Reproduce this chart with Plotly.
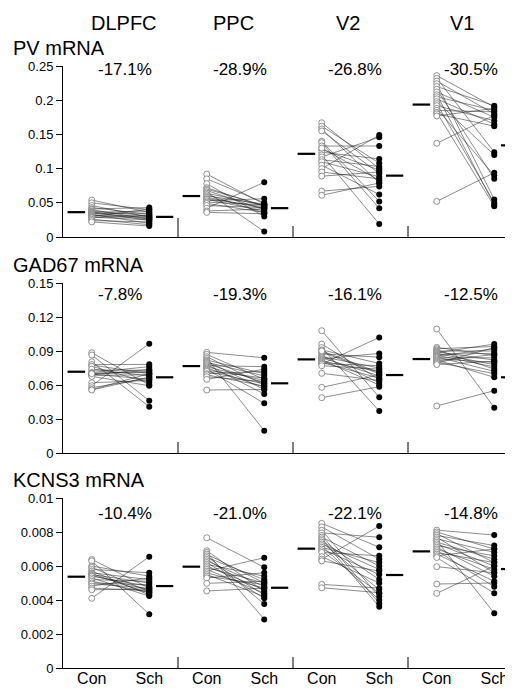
import plotly.graph_objects as go

regions = ["DLPFC", "PPC", "V2", "V1"]
genes = ["PV mRNA", "GAD67 mRNA", "KCNS3 mRNA"]
group_labels = ["Con", "Sch"]

# ---------------- PV mRNA ----------------
pv_con_dlpfc = [0.054, 0.050, 0.046, 0.043, 0.041, 0.040, 0.038, 0.037, 0.036, 0.035,
                0.034, 0.033, 0.032, 0.031, 0.030, 0.029, 0.028, 0.026, 0.024, 0.022]
pv_sch_dlpfc = [0.036, 0.040, 0.029, 0.033, 0.043, 0.026, 0.031, 0.024, 0.038, 0.028,
                0.035, 0.020, 0.030, 0.027, 0.041, 0.025, 0.032, 0.018, 0.022, 0.016]
pv_con_ppc = [0.092, 0.085, 0.078, 0.072, 0.070, 0.068, 0.066, 0.064, 0.062, 0.060,
              0.058, 0.056, 0.055, 0.053, 0.051, 0.049, 0.046, 0.042, 0.038, 0.036]
pv_sch_ppc = [0.048, 0.050, 0.030, 0.045, 0.046, 0.040, 0.008, 0.046, 0.035, 0.048,
              0.042, 0.044, 0.038, 0.056, 0.047, 0.036, 0.043, 0.080, 0.041, 0.034]
pv_con_v2 = [0.167, 0.162, 0.158, 0.155, 0.140, 0.138, 0.133, 0.128, 0.124, 0.120,
             0.117, 0.113, 0.110, 0.105, 0.100, 0.095, 0.089, 0.067, 0.061, 0.130]
pv_sch_v2 = [0.100, 0.108, 0.079, 0.093, 0.052, 0.042, 0.133, 0.098, 0.114, 0.019,
             0.146, 0.103, 0.088, 0.062, 0.149, 0.085, 0.095, 0.074, 0.079, 0.083]
pv_con_v1 = [0.236, 0.232, 0.228, 0.224, 0.220, 0.216, 0.212, 0.208, 0.205, 0.202,
             0.198, 0.195, 0.192, 0.188, 0.185, 0.182, 0.180, 0.177, 0.137, 0.052]
pv_sch_v1 = [0.190, 0.124, 0.180, 0.055, 0.192, 0.085, 0.175, 0.047, 0.185, 0.165,
             0.120, 0.050, 0.170, 0.090, 0.183, 0.045, 0.162, 0.188, 0.178, 0.094]
pv_con_mean = [0.0363, 0.0599, 0.1216, 0.1936]
pv_sch_mean = [0.0294, 0.0422, 0.0897, 0.1340]
pv_pct = ["-17.1%", "-28.9%", "-26.8%", "-30.5%"]
pv_ticks = [0, 0.05, 0.1, 0.15, 0.2, 0.25]
pv_ticktext = ["0", "0.05", "0.1", "0.15", "0.2", "0.25"]

# ---------------- GAD67 mRNA ----------------
gad_con_dlpfc = [0.0885, 0.0865, 0.0805, 0.0776, 0.0780, 0.0765, 0.0732, 0.0740, 0.0710, 0.0705,
                 0.0697, 0.0690, 0.0685, 0.0676, 0.0700, 0.0620, 0.0594, 0.0576, 0.0560, 0.0556]
gad_sch_dlpfc = [0.0600, 0.0461, 0.0408, 0.0700, 0.0782, 0.0620, 0.0730, 0.0680, 0.0762, 0.0710,
                 0.0650, 0.0738, 0.0690, 0.0594, 0.0720, 0.0640, 0.0964, 0.0660, 0.0700, 0.0670]
gad_con_ppc = [0.0888, 0.0870, 0.0850, 0.0835, 0.0820, 0.0810, 0.0800, 0.0790, 0.0780, 0.0770,
               0.0760, 0.0750, 0.0740, 0.0730, 0.0720, 0.0700, 0.0690, 0.0673, 0.0650, 0.0556]
gad_sch_ppc = [0.0840, 0.0650, 0.0600, 0.0197, 0.0700, 0.0560, 0.0680, 0.0620, 0.0520, 0.0762,
               0.0640, 0.0580, 0.0438, 0.0660, 0.0610, 0.0720, 0.0590, 0.0630, 0.0740, 0.0560]
gad_con_v2 = [0.1079, 0.0961, 0.0930, 0.0910, 0.0890, 0.0875, 0.0860, 0.0850, 0.0840, 0.0830,
              0.0820, 0.0810, 0.0800, 0.0790, 0.0785, 0.0770, 0.0703, 0.0579, 0.0488, 0.0900]
gad_sch_v2 = [0.0491, 0.0650, 0.0370, 0.0790, 0.0700, 0.0845, 0.0620, 0.0750, 0.0680, 0.0879,
              0.0600, 0.0720, 0.0660, 0.0770, 0.1020, 0.0740, 0.0640, 0.0690, 0.0585, 0.0710]
gad_con_v1 = [0.1094, 0.0932, 0.0920, 0.0910, 0.0900, 0.0893, 0.0885, 0.0878, 0.0870, 0.0862,
              0.0855, 0.0848, 0.0840, 0.0830, 0.0820, 0.0810, 0.0800, 0.0791, 0.0780, 0.0415]
gad_sch_v1 = [0.0400, 0.0860, 0.0940, 0.0740, 0.0900, 0.0820, 0.0961, 0.0780, 0.0880, 0.0760,
              0.0920, 0.0720, 0.0840, 0.0800, 0.0668, 0.0870, 0.0700, 0.0930, 0.0810, 0.0550]
gad_con_mean = [0.0717, 0.0767, 0.0826, 0.0829]
gad_sch_mean = [0.0668, 0.0615, 0.0688, 0.0668]
gad_pct = ["-7.8%", "-19.3%", "-16.1%", "-12.5%"]
gad_ticks = [0, 0.03, 0.06, 0.09, 0.12, 0.15]
gad_ticktext = ["0", "0.03", "0.06", "0.09", "0.12", "0.15"]

# ---------------- KCNS3 mRNA ----------------
kc_con_dlpfc = [0.00639, 0.00630, 0.00600, 0.00592, 0.00580, 0.00570, 0.00560, 0.00555, 0.00550, 0.00545,
                0.00540, 0.00530, 0.00520, 0.00510, 0.00500, 0.00495, 0.00482, 0.00470, 0.00460, 0.00410]
kc_sch_dlpfc = [0.00470, 0.00316, 0.00540, 0.00450, 0.00560, 0.00430, 0.00520, 0.00440, 0.00500, 0.00460,
                0.00480, 0.00423, 0.00510, 0.00445, 0.00490, 0.00470, 0.00530, 0.00455, 0.00465, 0.00655]
kc_con_ppc = [0.00766, 0.00690, 0.00680, 0.00670, 0.00660, 0.00650, 0.00640, 0.00630, 0.00620, 0.00610,
              0.00600, 0.00590, 0.00580, 0.00570, 0.00560, 0.00550, 0.00540, 0.00530, 0.00498, 0.00453]
kc_sch_ppc = [0.00592, 0.00450, 0.00286, 0.00500, 0.00376, 0.00520, 0.00430, 0.00480, 0.00410, 0.00540,
              0.00460, 0.00500, 0.00440, 0.00649, 0.00470, 0.00420, 0.00490, 0.00560, 0.00510, 0.00470]
kc_con_v2 = [0.00851, 0.00830, 0.00810, 0.00795, 0.00780, 0.00770, 0.00760, 0.00750, 0.00740, 0.00730,
             0.00720, 0.00710, 0.00700, 0.00690, 0.00680, 0.00655, 0.00640, 0.00630, 0.00492, 0.00472]
kc_sch_v2 = [0.00710, 0.00640, 0.00420, 0.00769, 0.00380, 0.00600, 0.00360, 0.00520, 0.00460, 0.00580,
             0.00400, 0.00620, 0.00550, 0.00440, 0.00660, 0.00500, 0.00835, 0.00570, 0.00470, 0.00443]
kc_con_v1 = [0.00811, 0.00800, 0.00790, 0.00780, 0.00770, 0.00760, 0.00750, 0.00740, 0.00730, 0.00720,
             0.00710, 0.00700, 0.00690, 0.00680, 0.00670, 0.00660, 0.00596, 0.00494, 0.00439, 0.00650]
kc_sch_v1 = [0.00782, 0.00700, 0.00620, 0.00720, 0.00560, 0.00680, 0.00322, 0.00640, 0.00600, 0.00660,
             0.00540, 0.00580, 0.00478, 0.00620, 0.00510, 0.00700, 0.00560, 0.00500, 0.00600, 0.00440]
kc_con_mean = [0.00537, 0.00596, 0.00702, 0.00686]
kc_sch_mean = [0.00482, 0.00472, 0.00547, 0.00582]
kc_pct = ["-10.4%", "-21.0%", "-22.1%", "-14.8%"]
kc_ticks = [0, 0.002, 0.004, 0.006, 0.008, 0.01]
kc_ticktext = ["0", "0.002", "0.004", "0.006", "0.008", "0.01"]

panels = [
    dict(con=[pv_con_dlpfc, pv_con_ppc, pv_con_v2, pv_con_v1],
         sch=[pv_sch_dlpfc, pv_sch_ppc, pv_sch_v2, pv_sch_v1],
         con_mean=pv_con_mean, sch_mean=pv_sch_mean, pct=pv_pct,
         ticks=pv_ticks, ticktext=pv_ticktext),
    dict(con=[gad_con_dlpfc, gad_con_ppc, gad_con_v2, gad_con_v1],
         sch=[gad_sch_dlpfc, gad_sch_ppc, gad_sch_v2, gad_sch_v1],
         con_mean=gad_con_mean, sch_mean=gad_sch_mean, pct=gad_pct,
         ticks=gad_ticks, ticktext=gad_ticktext),
    dict(con=[kc_con_dlpfc, kc_con_ppc, kc_con_v2, kc_con_v1],
         sch=[kc_sch_dlpfc, kc_sch_ppc, kc_sch_v2, kc_sch_v1],
         con_mean=kc_con_mean, sch_mean=kc_sch_mean, pct=kc_pct,
         ticks=kc_ticks, ticktext=kc_ticktext),
]

# ---------------- layout geometry ----------------
# The page body has an 8px margin, so the figure is offset by 8px; coordinates
# below are given in window pixels and converted accordingly.
OFF = 8
WIN_W, WIN_H = 513, 689
W, H = WIN_W - OFF, WIN_H - OFF
AXIS_X = 63                       # window x of y-axis line
ML = AXIS_X - OFF
REG = 8.0                         # x units per region
PX_PER_UNIT = 115 / REG
XMAX = (W - ML) / PX_PER_UNIT
CON_X, SCH_X = 2.0, 6.0
CON_BAR = (0.32, 1.54)
SCH_BAR = (6.47, 7.67)

panel_px = [(66, 237), (283, 453), (498, 668)]   # window (top, bottom) pixel of each y axis
title_y = [48, 265, 480]
pct_y = [69, 295, 513]
pct_left = [96, 211, 326, 442]
region_cx = [123.5, 233, 348, 462]

FONT = "Liberation Sans, Arial, Helvetica, sans-serif"


def px2x(px):
    return (px - AXIS_X) / (W - ML)


def px2y(py):
    return 1 - (py - OFF) / H


fig = go.Figure()
layout_axes = {}
annotations = []
shapes = []

for p, panel in enumerate(panels):
    n = "" if p == 0 else str(p + 1)
    xa, ya = "x" + n, "y" + n
    # paired lines
    lx, ly = [], []
    for r in range(4):
        for c, s in zip(panel["con"][r], panel["sch"][r]):
            lx += [CON_X + REG * r, SCH_X + REG * r, None]
            ly += [c, s, None]
    fig.add_trace(go.Scatter(x=lx, y=ly, mode="lines", xaxis=xa, yaxis=ya,
                             line=dict(color="rgba(30,30,30,0.85)", width=0.6),
                             hoverinfo="skip", showlegend=False))
    # mean bars
    mx, my = [], []
    for r in range(4):
        mx += [CON_BAR[0] + REG * r, CON_BAR[1] + REG * r, None,
               SCH_BAR[0] + REG * r, SCH_BAR[1] + REG * r, None]
        my += [panel["con_mean"][r], panel["con_mean"][r], None,
               panel["sch_mean"][r], panel["sch_mean"][r], None]
    fig.add_trace(go.Scatter(x=mx, y=my, mode="lines", xaxis=xa, yaxis=ya,
                             line=dict(color="black", width=2.2),
                             cliponaxis=False, hoverinfo="skip", showlegend=False))
    # control markers (open) and schizophrenia markers (filled)
    cx, cy, sx, sy = [], [], [], []
    for r in range(4):
        cx += [CON_X + REG * r] * len(panel["con"][r])
        cy += panel["con"][r]
        sx += [SCH_X + REG * r] * len(panel["sch"][r])
        sy += panel["sch"][r]
    fig.add_trace(go.Scatter(x=cx, y=cy, mode="markers", xaxis=xa, yaxis=ya,
                             marker=dict(symbol="circle", size=6, color="white",
                                         line=dict(color="#777777", width=0.8)),
                             cliponaxis=False, name="Con", showlegend=False))
    fig.add_trace(go.Scatter(x=sx, y=sy, mode="markers", xaxis=xa, yaxis=ya,
                             marker=dict(symbol="circle", size=6, color="black",
                                         line=dict(color="black", width=0)),
                             cliponaxis=False, name="Sch", showlegend=False))

    top, bot = panel_px[p]
    dom = [px2y(bot), px2y(top)]
    last = p == len(panels) - 1
    layout_axes["xaxis" + n] = dict(
        domain=[0, 1], range=[0, XMAX], anchor=ya,
        showline=True, linecolor="black", linewidth=1,
        showgrid=False, zeroline=False,
        ticks="", tickvals=[CON_X + REG * r + d for r in range(4) for d in (0, 4)] if last else [],
        ticktext=group_labels * 4 if last else [],
        showticklabels=last, tickfont=dict(size=16, color="black", family=FONT),
        ticklabelstandoff=-4,
        automargin=False, fixedrange=True)
    layout_axes["yaxis" + n] = dict(
        domain=dom, range=[0, panel["ticks"][-1]], anchor=xa,
        showline=True, linecolor="black", linewidth=1,
        showgrid=False, zeroline=False,
        ticks="outside", ticklen=6, tickwidth=1, tickcolor="black",
        tickvals=panel["ticks"], ticktext=panel["ticktext"],
        tickfont=dict(size=13, color="black", family=FONT),
        automargin=False, fixedrange=True)

    # region divider ticks
    for r in range(1, 4):
        hpx = 19 if (p == 0 and r == 1) else 11
        shapes.append(dict(type="line", xref=xa, yref=ya + " domain",
                           x0=REG * r, x1=REG * r, y0=0, y1=hpx / (bot - top),
                           line=dict(color="black", width=1)))

    # gene title
    annotations.append(dict(text=genes[p], x=px2x(11), y=px2y(title_y[p]),
                            xref="paper", yref="paper", xanchor="left", yanchor="middle",
                            showarrow=False, font=dict(size=20, color="black", family=FONT)))
    # percent labels
    for r in range(4):
        annotations.append(dict(text=panel["pct"][r], x=px2x(pct_left[r]), y=px2y(pct_y[p]),
                                xref="paper", yref="paper", xanchor="left", yanchor="middle",
                                showarrow=False, font=dict(size=17, color="black", family=FONT)))

# region names
for r in range(4):
    annotations.append(dict(text=regions[r], x=px2x(region_cx[r]), y=px2y(23),
                            xref="paper", yref="paper", xanchor="center", yanchor="middle",
                            showarrow=False, font=dict(size=20, color="black", family=FONT)))

fig.update_layout(
    width=W, height=H,
    margin=dict(l=ML, r=0, t=0, b=0, pad=0),
    paper_bgcolor="white", plot_bgcolor="white",
    font=dict(family=FONT, color="black"),
    showlegend=False,
    annotations=annotations, shapes=shapes,
    **layout_axes,
)

fig.write_html("out.html")
